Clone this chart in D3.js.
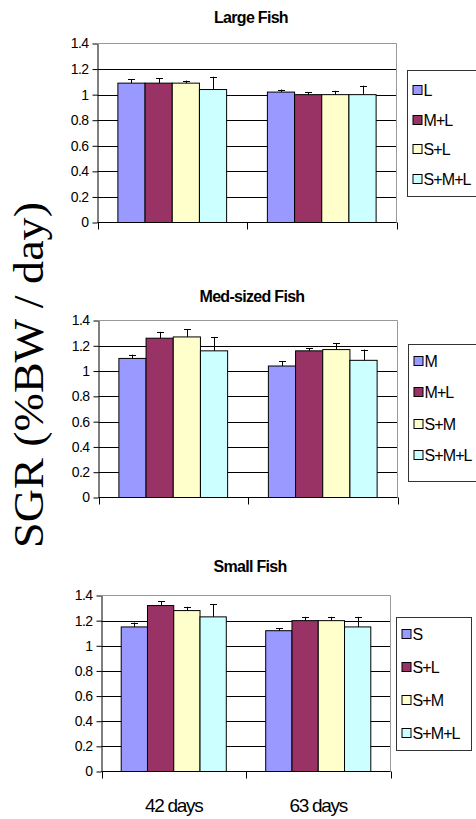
<!DOCTYPE html>
<html>
<head>
<meta charset="utf-8">
<script src="https://cdn.jsdelivr.net/npm/d3@7"></script>
<style>
  body { margin: 0; background: #fff; }
  svg { display: block; }
</style>
</head>
<body>
<svg id="chart" width="476" height="819"></svg>
<script>
const days = ['42 days', '63 days'];
const yTicks = [0, 0.2, 0.4, 0.6, 0.8, 1, 1.2, 1.4];
const yTickLabels = ['0', '0.2', '0.4', '0.6', '0.8', '1', '1.2', '1.4'];
const colours = ['#9999FF', '#993366', '#FFFFCC', '#CCFFFF'];

// large fish
const largeSeries = ['L', 'M+L', 'S+L', 'S+M+L'];
const largeMeans = [[1.09, 1.09, 1.09, 1.04], [1.02, 1.00, 1.00, 1.00]];
const largeErrors = [[0.03, 0.04, 0.02, 0.10], [0.02, 0.02, 0.03, 0.07]];

// med-sized fish
const medSeries = ['M', 'M+L', 'S+M', 'S+M+L'];
const medMeans = [[1.10, 1.26, 1.27, 1.16], [1.04, 1.16, 1.17, 1.085]];
const medErrors = [[0.03, 0.05, 0.06, 0.11], [0.04, 0.02, 0.05, 0.085]];

// small fish
const smallSeries = ['S', 'S+L', 'S+M', 'S+M+L'];
const smallMeans = [[1.15, 1.32, 1.28, 1.23], [1.12, 1.20, 1.20, 1.15]];
const smallErrors = [[0.035, 0.035, 0.03, 0.10], [0.02, 0.03, 0.03, 0.08]];

const panels = [
  { title: 'Large Fish', series: largeSeries, means: largeMeans, errors: largeErrors,
    left: 97.5, right: 396.5, top: 43.5, bottom: 222.5, titleY: 23,
    legend: { x: 407.5, y: 70.5, w: 80, h: 126, first: 90, step: 29.7 } },
  { title: 'Med-sized Fish', series: medSeries, means: medMeans, errors: medErrors,
    left: 98.5, right: 397.5, top: 320.5, bottom: 497.5, titleY: 302,
    legend: { x: 408.5, y: 344.5, w: 80, h: 137, first: 361, step: 31.4 } },
  { title: 'Small Fish', series: smallSeries, means: smallMeans, errors: smallErrors,
    left: 101.5, right: 390.5, top: 595.5, bottom: 771.5, titleY: 572,
    legend: { x: 396.5, y: 617.5, w: 75, h: 133, first: 634.3, step: 33 }, showDays: true }
];

const svg = d3.select('#chart');
svg.append('rect').attr('width', 476).attr('height', 819).attr('fill', '#fff');

function drawPanel(p) {
  const x0 = d3.scaleBand().domain(days).range([p.left, p.right]);
  const bw = x0.bandwidth();
  const gap = bw * 0.75 / 5.5; // excel gap width 150%
  const x1 = d3.scaleBand().domain(p.series).range([gap, bw - gap]);
  const y = d3.scaleLinear().domain([0, 1.4]).range([p.bottom, p.top]);

  const g = svg.append('g');

  g.append('text')
    .attr('x', (p.left + p.right) / 2 + 4)
    .attr('y', p.titleY)
    .attr('text-anchor', 'middle')
    .style('font-family', 'Liberation Sans, Arial, sans-serif')
    .style('font-size', '16px')
    .style('font-weight', 'bold')
    .style('letter-spacing', '-0.7px')
    .text(p.title);

  // gridlines
  g.append('g').selectAll('line')
    .data(yTicks.filter(t => t > 0 && t < 1.4))
    .join('line')
    .attr('x1', p.left).attr('x2', p.right)
    .attr('y1', d => Math.round(y(d)) + 0.5).attr('y2', d => Math.round(y(d)) + 0.5)
    .attr('stroke', '#000');

  // grey frame top and right
  g.append('path')
    .attr('d', `M${p.left},${y(1.4)}H${p.right}V${y(0)}`)
    .attr('fill', 'none')
    .attr('stroke', '#999');

  // bars
  const rows = [];
  days.forEach((day, i) => {
    p.series.forEach((s, j) => {
      rows.push({ day, s, j, mean: p.means[i][j], err: p.errors[i][j] });
    });
  });

  g.append('g').selectAll('rect')
    .data(rows)
    .join('rect')
    .attr('x', d => x0(d.day) + x1(d.s))
    .attr('y', d => y(d.mean))
    .attr('width', x1.bandwidth())
    .attr('height', d => y(0) - y(d.mean))
    .attr('fill', d => colours[d.j])
    .attr('stroke', '#000')
    .attr('stroke-width', 1);

  // error bars (upper only)
  const eb = g.append('g').selectAll('g')
    .data(rows)
    .join('g')
    .attr('transform', d => `translate(${Math.round(x0(d.day) + x1(d.s) + x1.bandwidth() / 2) + 0.5},0)`);
  eb.append('line')
    .attr('y1', d => y(d.mean)).attr('y2', d => y(d.mean + d.err))
    .attr('stroke', '#000');
  eb.append('line')
    .attr('x1', -3.5).attr('x2', 3.5)
    .attr('y1', d => Math.round(y(d.mean + d.err)) + 0.5)
    .attr('y2', d => Math.round(y(d.mean + d.err)) + 0.5)
    .attr('stroke', '#000');

  // y axis
  const yAxis = g.append('g')
    .attr('transform', `translate(${p.left},0)`)
    .call(d3.axisLeft(y).tickValues(yTicks).tickFormat((d, i) => yTickLabels[i])
      .tickSize(5).tickSizeOuter(0).tickPadding(4));
  yAxis.selectAll('text')
    .style('font-family', 'Liberation Sans, Arial, sans-serif')
    .style('font-size', '14px')
    .style('letter-spacing', '-0.6px');

  // x axis line with ticks at category boundaries
  const bounds = days.map(d => x0(d)).concat([p.right]);
  g.append('line')
    .attr('x1', p.left).attr('x2', p.right)
    .attr('y1', y(0)).attr('y2', y(0))
    .attr('stroke', '#000');
  g.append('g').selectAll('line')
    .data(bounds)
    .join('line')
    .attr('x1', d => Math.round(d) + 0.5).attr('x2', d => Math.round(d) + 0.5)
    .attr('y1', y(0)).attr('y2', y(0) + 7)
    .attr('stroke', '#000');

  if (p.showDays) {
    g.append('g').selectAll('text')
      .data(days)
      .join('text')
      .attr('x', d => x0(d) + bw / 2)
      .attr('y', y(0) + 40)
      .attr('text-anchor', 'middle')
      .style('font-family', 'Liberation Sans, Arial, sans-serif')
      .style('font-size', '19px')
      .style('letter-spacing', '-1.3px')
      .text(d => d);
  }

  // legend
  const lg = g.append('g');
  lg.append('rect')
    .attr('x', p.legend.x).attr('y', p.legend.y)
    .attr('width', p.legend.w).attr('height', p.legend.h)
    .attr('fill', '#fff')
    .attr('stroke', '#333');
  const item = lg.selectAll('g')
    .data(p.series)
    .join('g')
    .attr('transform', (d, i) => `translate(${p.legend.x},${Math.round(p.legend.first + i * p.legend.step)})`);
  item.append('rect')
    .attr('x', 5.5).attr('y', -4.5)
    .attr('width', 9).attr('height', 9)
    .attr('fill', (d, i) => colours[i])
    .attr('stroke', '#000');
  item.append('text')
    .attr('x', 16)
    .attr('y', 6)
    .style('font-family', 'Liberation Sans, Arial, sans-serif')
    .style('font-size', '16px')
    .style('letter-spacing', '-0.9px')
    .text(d => d);
}

panels.forEach(drawPanel);

// shared y label
svg.append('text')
  .attr('transform', 'translate(43,375) rotate(-90)')
  .attr('text-anchor', 'middle')
  .attr('textLength', 346)
  .attr('lengthAdjust', 'spacingAndGlyphs')
  .style('font-family', 'Liberation Serif, Times New Roman, serif')
  .style('font-size', '42px')
  .text('SGR (%BW / day)');
</script>
</body>
</html>
